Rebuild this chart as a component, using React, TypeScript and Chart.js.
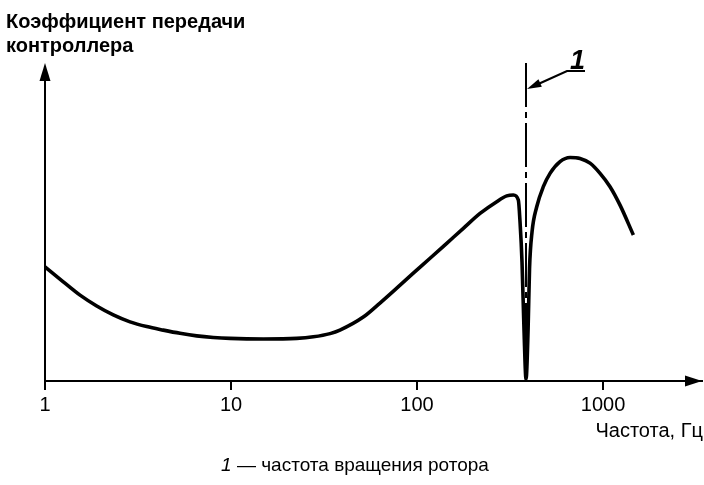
import React, { useEffect, useRef } from "react";
import { Chart, registerables } from "chart.js";

Chart.register(...registerables);

// Frequency, Hz (log axis) and controller gain (arbitrary units, 0..100)
const frequencyHz = [
  1, 1.254, 1.543, 1.897, 2.329, 2.864, 3.523, 4.325, 5.319, 6.541, 8.03, 9.876, 14.92, 22.55, 27.7, 34.07, 38.5,
  51.4, 63.2, 77.8, 95.5, 117.5, 144.4, 177.4, 218.2, 268.3, 303.6, 329.4, 350.4, 357.9, 366.8, 376.0, 385.5,
  395.3, 402.6, 415.2, 440.1, 477.5, 518.9, 587.3, 664.6, 752.1, 851.3, 963.6, 1090.4, 1234.2, 1455.8,
];
const controllerGain = [
  35.9, 31.2, 27.0, 23.6, 20.8, 18.6, 17.1, 16.0, 15.0, 14.2, 13.7, 13.4, 13.2, 13.4, 13.9, 14.9, 16.0,
  20.1, 24.5, 29.2, 33.9, 38.6, 43.3, 48.0, 52.7, 56.4, 58.2, 58.5, 56.9, 50.0, 37.4, 16.0, 0.6,
  16.0, 35.5, 46.9, 54.8, 61.1, 65.3, 69.0, 70.3, 70.0, 68.5, 65.3, 61.1, 55.3, 45.9,
];
const xTickValues = [1, 10, 100, 1000];
const rotorFrequencyHz = 385.5;

const yTitleLines = ["Коэффициент передачи", "контроллера"];
const xTitle = "Частота, Гц";
const markerLabel = "1";
const footnoteNumber = "1";
const footnoteText = " — частота вращения ротора";

const FONT = '"Liberation Sans", Arial, sans-serif';

const annotations = {
  id: "annotations",
  afterDraw(chart: any) {
    const ctx = chart.ctx as CanvasRenderingContext2D;
    const area = chart.chartArea;
    const xs = chart.scales.x;
    ctx.save();
    ctx.fillStyle = "#000";
    ctx.strokeStyle = "#000";

    // y axis with arrow
    ctx.lineWidth = 2;
    ctx.beginPath();
    ctx.moveTo(area.left, area.bottom);
    ctx.lineTo(area.left, area.top + 12);
    ctx.stroke();
    ctx.beginPath();
    ctx.moveTo(area.left, area.top);
    ctx.lineTo(area.left - 5.5, area.top + 18);
    ctx.lineTo(area.left + 5.5, area.top + 18);
    ctx.closePath();
    ctx.fill();

    // x axis arrow
    ctx.beginPath();
    ctx.moveTo(area.right, area.bottom);
    ctx.lineTo(area.right - 17, area.bottom - 5.5);
    ctx.lineTo(area.right - 17, area.bottom + 5.5);
    ctx.closePath();
    ctx.fill();

    // rotor frequency dash-dot line
    const rx = Math.round(xs.getPixelForValue(rotorFrequencyHz));
    ctx.lineWidth = 2;
    ctx.setLineDash([44, 5, 6, 5]);
    ctx.beginPath();
    ctx.moveTo(rx, area.top);
    ctx.lineTo(rx, area.bottom);
    ctx.stroke();
    ctx.setLineDash([]);

    // leader with arrow to the line
    const tipX = rx + 1;
    const tipY = area.top + 26;
    const ux0 = rx + 41;
    const uy = area.top + 8;
    const ang = Math.atan2(tipY - uy, tipX - ux0);
    ctx.lineWidth = 2.2;
    ctx.beginPath();
    ctx.moveTo(ux0 + 18, uy);
    ctx.lineTo(ux0, uy);
    ctx.lineTo(tipX - 10 * Math.cos(ang), tipY - 10 * Math.sin(ang));
    ctx.stroke();
    ctx.beginPath();
    ctx.moveTo(tipX, tipY);
    ctx.lineTo(tipX - 15 * Math.cos(ang - 0.28), tipY - 15 * Math.sin(ang - 0.28));
    ctx.lineTo(tipX - 15 * Math.cos(ang + 0.28), tipY - 15 * Math.sin(ang + 0.28));
    ctx.closePath();
    ctx.fill();

    ctx.font = `italic bold 27px ${FONT}`;
    ctx.textAlign = "left";
    ctx.textBaseline = "alphabetic";
    ctx.fillText(markerLabel, ux0 + 3, uy - 2);

    // y axis title
    ctx.font = `bold 20px ${FONT}`;
    ctx.fillText(yTitleLines[0], 6, 28);
    ctx.fillText(yTitleLines[1], 6, 52);

    // x axis title
    ctx.font = `20px ${FONT}`;
    ctx.textAlign = "right";
    ctx.fillText(xTitle, 703, 437);

    // footnote
    ctx.textAlign = "left";
    ctx.font = `italic 19px ${FONT}`;
    const w1 = ctx.measureText(footnoteNumber).width;
    ctx.font = `19px ${FONT}`;
    const w2 = ctx.measureText(footnoteText).width;
    const startX = 355 - (w1 + w2) / 2;
    ctx.font = `italic 19px ${FONT}`;
    ctx.fillText(footnoteNumber, startX, 471);
    ctx.font = `19px ${FONT}`;
    ctx.fillText(footnoteText, startX + w1, 471);
    ctx.restore();
  },
};

export default function App() {
  const ref = useRef<HTMLCanvasElement | null>(null);
  useEffect(() => {
    if (!ref.current) return;
    const chart = new Chart(ref.current, {
      type: "line",
      data: {
        datasets: [
          {
            data: frequencyHz.map((f, i) => ({ x: f, y: controllerGain[i] })),
            borderColor: "#000",
            borderWidth: 3.6,
            pointRadius: 0,
            fill: false,
            cubicInterpolationMode: "monotone",
          },
        ],
      },
      options: {
        animation: false,
        responsive: false,
        devicePixelRatio: 1,
        layout: { padding: { left: 45, top: 63, right: 2, bottom: 0 } },
        plugins: { legend: { display: false }, tooltip: { enabled: false }, title: { display: false } },
        scales: {
          x: {
            type: "logarithmic",
            min: 1,
            max: 3404,
            afterBuildTicks: (scale: any) => {
              scale.ticks = xTickValues.map((v) => ({ value: v }));
            },
            afterFit: (scale: any) => {
              scale.height = 104;
            },
            ticks: {
              autoSkip: false,
              maxRotation: 0,
              color: "#000",
              padding: 3,
              font: { family: FONT, size: 20 },
              callback: (v: any) => String(v),
            },
            grid: {
              display: true,
              drawOnChartArea: false,
              drawTicks: true,
              tickLength: 9,
              color: "#000",
              lineWidth: 2,
            },
            border: { display: true, color: "#000", width: 2 },
          },
          y: { type: "linear", min: 0, max: 100, display: false },
        },
      },
      plugins: [annotations],
    });
    return () => chart.destroy();
  }, []);
  return (
    <div style={{ position: "fixed", left: 0, top: 0, width: 704, height: 485, background: "#fff" }}>
      <canvas ref={ref} width={704} height={485} />
    </div>
  );
}
